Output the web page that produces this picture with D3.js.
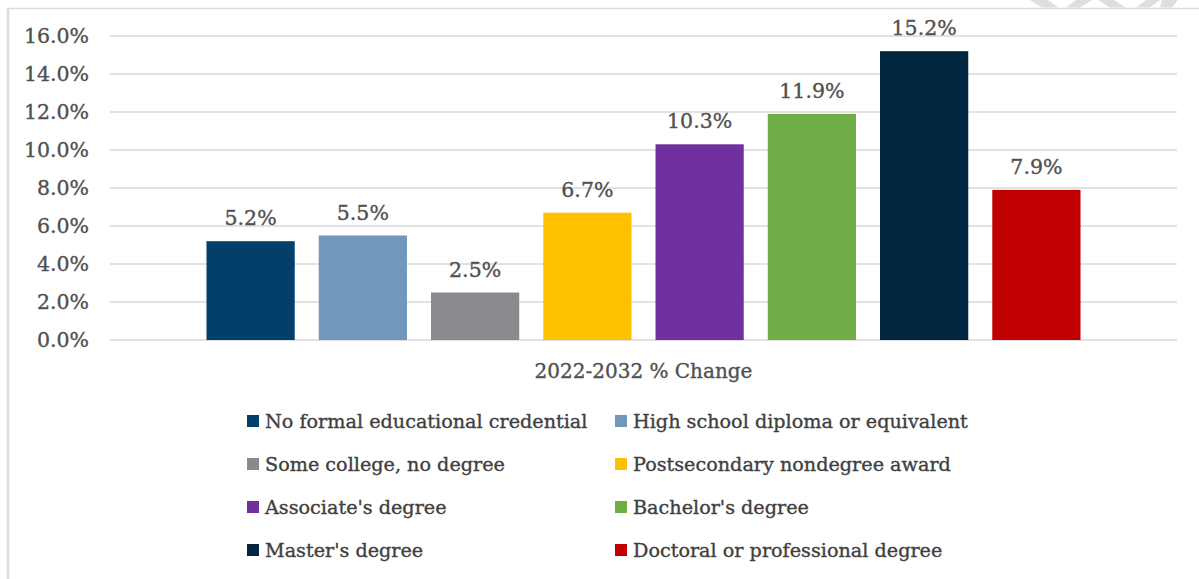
<!DOCTYPE html>
<html>
<head>
<meta charset="utf-8">
<script src="https://cdn.jsdelivr.net/npm/d3@7"></script>
<style>
  html, body { margin: 0; padding: 0; background: #ffffff; }
  svg { display: block; }
  text { font-family: "DejaVu Serif", "Liberation Serif", serif; stroke-width: 0.35px; }
</style>
</head>
<body>
<svg id="chart" width="1199" height="579"></svg>
<script>
// Projected employment change by typical entry-level education
const category = "2022-2032 % Change";
const series = [
  "No formal educational credential",
  "High school diploma or equivalent",
  "Some college, no degree",
  "Postsecondary nondegree award",
  "Associate's degree",
  "Bachelor's degree",
  "Master's degree",
  "Doctoral or professional degree"
];
const values = [5.2, 5.5, 2.5, 6.7, 10.3, 11.9, 15.2, 7.9];
const colors = ["#023f6a", "#7197bb", "#898a8e", "#ffc000", "#7030a0", "#70ad47", "#02263f", "#c00000"];
const yTicks = [0, 2, 4, 6, 8, 10, 12, 14, 16];

const svg = d3.select("#chart");
const W = 1199, H = 579;
const textColor = "#505050";

// Chart frame
svg.append("line").attr("x1", 8).attr("x2", W).attr("y1", 8.5).attr("y2", 8.5)
  .attr("stroke", "#dcdcdc").attr("stroke-width", 1.5);
svg.append("line").attr("x1", 8).attr("x2", 8).attr("y1", 8).attr("y2", H)
  .attr("stroke", "#dcdcdc").attr("stroke-width", 2.5);

// Faint watermark strokes peeking above the frame
const wm = svg.append("g").attr("fill", "#dedede");
[
  [[1030, 0], [1048, 0], [1058, 7.5], [1042, 7.5]],
  [[1066, 7.5], [1080, 7.5], [1092, 0], [1076, 0]],
  [[1098, 0], [1114, 0], [1126, 7.5], [1110, 7.5]],
  [[1136, 7.5], [1150, 7.5], [1160, 0], [1146, 0]],
  [[1162, 0], [1178, 0], [1172, 7.5], [1160, 7.5]]
].forEach(p => wm.append("polygon").attr("points", p.map(d => d.join(",")).join(" ")));

// Scales
const plotLeft = 110, plotRight = 1177;
const y = d3.scaleLinear().domain([0, 16]).range([340, 36]);
const x0 = d3.scaleBand().domain([category]).range([plotLeft, plotRight]).paddingOuter(0.1104);
const x1 = d3.scaleBand().domain(series).range([0, x0.bandwidth()]).paddingInner(0.214);

// Gridlines
svg.append("g").selectAll("line").data(yTicks).join("line")
  .attr("x1", plotLeft).attr("x2", plotRight)
  .attr("y1", d => y(d)).attr("y2", d => y(d))
  .attr("stroke", "#d9d9d9").attr("stroke-width", 1.3);

// Y axis labels
const yAxis = d3.axisLeft(y).tickValues(yTicks).tickFormat(d => d3.format(".1f")(d) + "%").tickSize(0).tickPadding(0);
const ya = svg.append("g").attr("transform", "translate(89,0)").call(yAxis);
ya.select(".domain").remove();
ya.selectAll("text").attr("font-family", "DejaVu Serif").attr("font-size", 20.5)
  .attr("fill", textColor).attr("stroke", textColor);

// Bars
const g = svg.append("g").attr("transform", `translate(${x0(category)},0)`);
g.selectAll("rect").data(series).join("rect")
  .attr("x", d => x1(d))
  .attr("y", (d, i) => y(values[i]))
  .attr("width", x1.bandwidth())
  .attr("height", (d, i) => y(0) - y(values[i]))
  .attr("fill", (d, i) => colors[i]);

// Value labels
g.selectAll("text.val").data(series).join("text")
  .attr("class", "val")
  .attr("x", d => x1(d) + x1.bandwidth() / 2)
  .attr("y", (d, i) => y(values[i]) - 16)
  .attr("text-anchor", "middle")
  .attr("font-size", 20.5)
  .attr("fill", textColor).attr("stroke", textColor)
  .text((d, i) => values[i].toFixed(1) + "%");

// Category label
svg.append("text")
  .attr("x", x0(category) + x0.bandwidth() / 2)
  .attr("y", 378)
  .attr("text-anchor", "middle")
  .attr("font-size", 20)
  .attr("fill", textColor).attr("stroke", textColor)
  .text(category);

// Legend: two columns, four rows
const legCols = [247, 615];
const legRow0 = 421, legStep = 43;
const leg = svg.append("g").selectAll("g").data(series).join("g")
  .attr("transform", (d, i) => `translate(${legCols[i % 2]},${legRow0 + Math.floor(i / 2) * legStep})`);
leg.append("rect").attr("x", 0).attr("y", -6).attr("width", 12).attr("height", 12)
  .attr("fill", (d, i) => colors[i]);
leg.append("text").attr("x", 18).attr("y", 0).attr("dy", "0.36em")
  .attr("font-size", 19.2).attr("fill", "#404040").attr("stroke", "#404040")
  .text(d => d);
</script>
</body>
</html>
